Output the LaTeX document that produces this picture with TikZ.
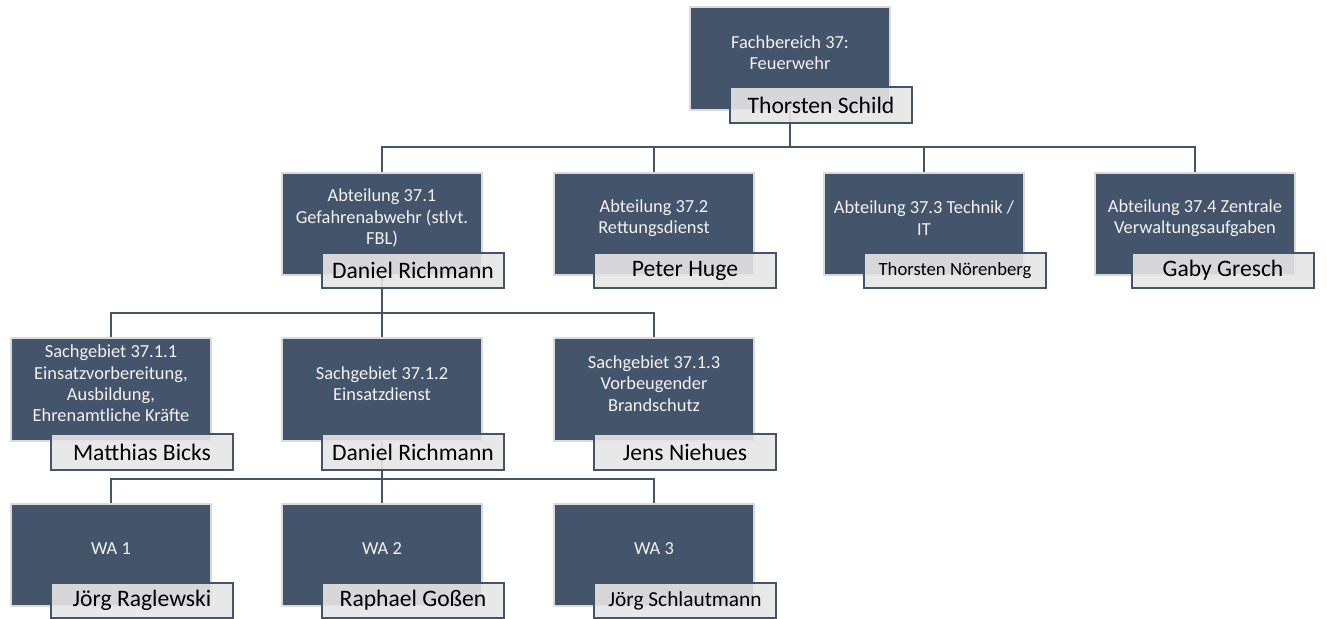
\documentclass[tikz,border=0pt]{standalone}
\usepackage{fontspec}
\setmainfont{Carlito}
\definecolor{slate}{HTML}{44546A}
\definecolor{namegray}{HTML}{E7E6E6}
\definecolor{boxrim}{HTML}{DADADA}
\tikzset{
  unitbox/.style={fill=slate, draw=boxrim, line width=1.3pt,
    minimum width=150pt, minimum height=77pt, inner sep=0pt},
  unittext/.style={text=white!95!black, align=center, inner sep=0pt,
    font=\fontsize{13.8}{16}\selectfont},
  namebox/.style={fill=namegray, fill opacity=0.9, text opacity=1,
    draw=slate, line width=1.3pt, minimum width=136.5pt,
    minimum height=26.5pt, inner sep=0pt,
    font=\fontsize{17.7}{20}\selectfont},
  smallname/.style={font=\fontsize{14}{16}\selectfont},
  midname/.style={font=\fontsize{16}{18}\selectfont},
  link/.style={draw=slate, line width=1.5pt}
}
\begin{document}
\begin{tikzpicture}[x=0.75pt,y=-0.75pt]
\useasboundingbox (0,0) rectangle (1327,618);

% boxes
\node[unitbox] (fb) at (790,58.5) {};
\node[unitbox] (a1) at (382,224) {};
\node[unitbox] (a2) at (654,224) {};
\node[unitbox] (a3) at (924,224) {};
\node[unitbox] (a4) at (1195,224) {};
\node[unitbox] (s1) at (111,389.5) {};
\node[unitbox] (s2) at (382,389.5) {};
\node[unitbox] (s3) at (654,389.5) {};
\node[unitbox] (w1) at (111,555) {};
\node[unitbox] (w2) at (382,555) {};
\node[unitbox] (w3) at (654,555) {};

\node[unittext] (fbt) at (790,52.5) {Fachbereich 37:\\Feuerwehr};
\node[unittext] (a1t) at (382,218) {Abteilung 37.1\\Gefahrenabwehr (stlvt.\\FBL)};
\node[unittext] (a2t) at (654,218) {Abteilung 37.2\\Rettungsdienst};
\node[unittext] (a3t) at (924,218) {Abteilung 37.3 Technik /\\IT};
\node[unittext] (a4t) at (1195,218) {Abteilung 37.4 Zentrale\\Verwaltungsaufgaben};
\node[unittext] (s1t) at (111,383.5) {Sachgebiet 37.1.1\\Einsatzvorbereitung,\\Ausbildung,\\Ehrenamtliche Kräfte};
\node[unittext] (s2t) at (382,383.5) {Sachgebiet 37.1.2\\Einsatzdienst};
\node[unittext] (s3t) at (654,383.5) {Sachgebiet 37.1.3\\Vorbeugender\\Brandschutz};
\node[unittext] (w1t) at (111,549) {WA 1};
\node[unittext] (w2t) at (382,549) {WA 2};
\node[unittext] (w3t) at (654,549) {WA 3};

% connectors
\coordinate (bus0) at (790,147);
\coordinate (bus1) at (382,313);
\coordinate (bus2) at (382,479);
\draw[link] (fb.south) -- (bus0) -| (a1.north);
\draw[link] (bus0) -| (a2.north);
\draw[link] (bus0) -| (a3.north);
\draw[link] (bus0) -| (a4.north);
\draw[link] (a1.south) -- (bus1) -| (s1.north);
\draw[link] (bus1) -- (s2.north);
\draw[link] (bus1) -| (s3.north);
\draw[link] (s2.south) -- (bus2) -| (w1.north);
\draw[link] (bus2) -- (w2.north);
\draw[link] (bus2) -| (w3.north);

% names
\node[namebox] (fbn) at (821,105) {Thorsten Schild};
\node[namebox] (a1n) at (413,270.5) {Daniel Richmann};
\node[namebox] (a2n) at (685,270.5) {Peter Huge};
\node[namebox,smallname] (a3n) at (955,270.5) {Thorsten Nörenberg};
\node[namebox] (a4n) at (1223,270.5) {Gaby Gresch};
\node[namebox] (s1n) at (142,452) {Matthias Bicks};
\node[namebox] (s2n) at (413,452) {Daniel Richmann};
\node[namebox] (s3n) at (685,452) {Jens Niehues};
\node[namebox] (w1n) at (142,600.5) {Jörg Raglewski};
\node[namebox] (w2n) at (413,600.5) {Raphael Goßen};
\node[namebox,midname] (w3n) at (685,600.5) {Jörg Schlautmann};
\end{tikzpicture}
\end{document}
